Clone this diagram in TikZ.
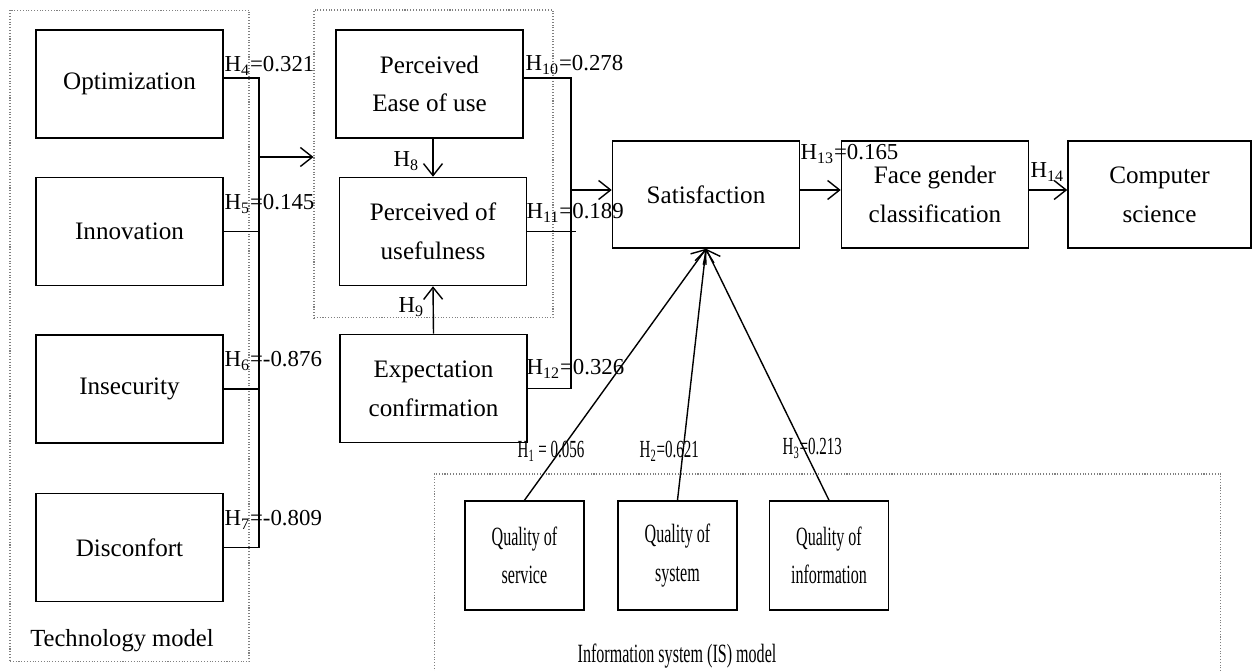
\documentclass[tikz,border=0pt]{standalone}
\usepackage{fontspec}
\setmainfont{Liberation Serif}
\newfontfamily\narrowfont[FakeStretch=0.61]{Liberation Serif}
\usetikzlibrary{arrows.meta}
\tikzset{
	block/.style={draw, line width=0.9pt, minimum width=3.74cm, minimum height=2.16cm, align=center, font=\fontsize{14.3}{22}\selectfont},
	qblock/.style={block, minimum width=2.38cm, minimum height=2.18cm, font=\narrowfont\fontsize{15}{22}\selectfont},
	group/.style={draw=gray, densely dotted, line width=0.6pt, inner sep=0pt},
	hlabel/.style={anchor=base west, inner sep=0pt, font=\fontsize{13}{15}\selectfont},
	qlabel/.style={hlabel, font=\narrowfont\fontsize{14}{15}\selectfont},
}
\newcommand{\hlab}[2]{H\textsubscript{#1}#2}

\begin{document}
\begin{tikzpicture}[x=0.02cm, y=-0.02cm, line width=0.8pt, -{Straight Barb[length=2.4mm, width=3.8mm]}]
	\useasboundingbox (0,0) rectangle (1252,671);
	\node[group, minimum width=4.78cm, minimum height=13.04cm] (tech) at (129.5,336) {};
	\node[group, minimum width=4.78cm, minimum height=6.16cm] (tam) at (433.5,164) {};
	\node[group, minimum width=15.74cm, minimum height=4.12cm] (ism) at (827.5,577) {};
	\node[anchor=base, font=\fontsize{14}{16}\selectfont] (techlab) at (122,647) {Technology model};
	\node[anchor=base, font=\narrowfont\fontsize{15}{16}\selectfont] (islab) at (677,663) {Information system (IS) model};

	\node[block] (opt) at (129.5,84) {Optimization};
	\node[block] (inn) at (129.5,231.5) {Innovation};
	\node[block] (insec) at (129.5,389) {Insecurity};
	\node[block] (disc) at (129.5,547.5) {Disconfort};
	\node[block] (peou) at (429.5,84) {Perceived\\Ease of use};
	\node[block] (pu) at (433,231.5) {Perceived of\\usefulness};
	\node[block] (ec) at (433.5,388.5) {Expectation\\confirmation};
	\node[block, minimum height=2.14cm] (sat) at (706,194.5) {Satisfaction};
	\node[block, minimum height=2.14cm] (fgc) at (935,194.5) {Face gender\\classification};
	\node[block, minimum width=3.66cm, minimum height=2.14cm] (cs) at (1159.5,194.5) {Computer\\science};
	\node[qblock] (qserv) at (524.5,555.5) {Quality of\\service};
	\node[qblock] (qsys) at (677.5,555.5) {Quality of\\system};
	\node[qblock] (qinf) at (829,555.5) {Quality of\\information};

	\coordinate (lbus) at (259,0);
	\coordinate (rbus) at (571,0);
	\draw[-] ([yshift=1.2mm]opt.east) -| (disc.east -| lbus) -- (disc.east);
	\draw[-] (inn.east) -- (inn.east -| lbus);
	\draw[-] (insec.east) -- (insec.east -| lbus);
	\draw (lbus |- 0,157) -- (tam.west |- 0,157);
	\draw[-] ([yshift=1.2mm]peou.east) -| (ec.east -| rbus) -- (ec.east);
	\draw[-] (pu.east) -- ++(49,0);
	\draw (rbus |- 0,190) -- (sat.west |- 0,190);
	\draw (pu.north |- peou.south) -- (pu.north);
	\draw (ec.north) -- (pu.south);
	\draw (sat.east |- 0,190) -- (fgc.west |- 0,190);
	\draw (fgc.east |- 0,190) -- (cs.west |- 0,190);
	\foreach \q in {qserv,qsys,qinf}
		\draw (\q.north) -- (sat.south);

	\node[hlabel] (h4) at (224,72) {\hlab{4}{=0.321}};
	\node[hlabel] (h5) at (224,210) {\hlab{5}{=0.145}};
	\node[hlabel] (h6) at (224,367) {\hlab{6}{=-0.876}};
	\node[hlabel] (h7) at (224,526) {\hlab{7}{=-0.809}};
	\node[hlabel] (h8) at (393,167) {\hlab{8}{}};
	\node[hlabel] (h9) at (398,313) {\hlab{9}{}};
	\node[hlabel] (h10) at (525,71) {\hlab{10}{=0.278}};
	\node[hlabel] (h11) at (526,219) {\hlab{11}{=0.189}};
	\node[hlabel] (h12) at (526,375) {\hlab{12}{=0.326}};
	\node[hlabel] (h13) at (800,160) {\hlab{13}{=0.165}};
	\node[hlabel] (h14) at (1030,178) {\hlab{14}{}};
	\node[qlabel] (h1) at (517,458) {\hlab{1}{ = 0.056}};
	\node[qlabel] (h2) at (639,458) {\hlab{2}{=0.621}};
	\node[qlabel] (h3) at (782,455) {\hlab{3}{=0.213}};
\end{tikzpicture}
\end{document}
